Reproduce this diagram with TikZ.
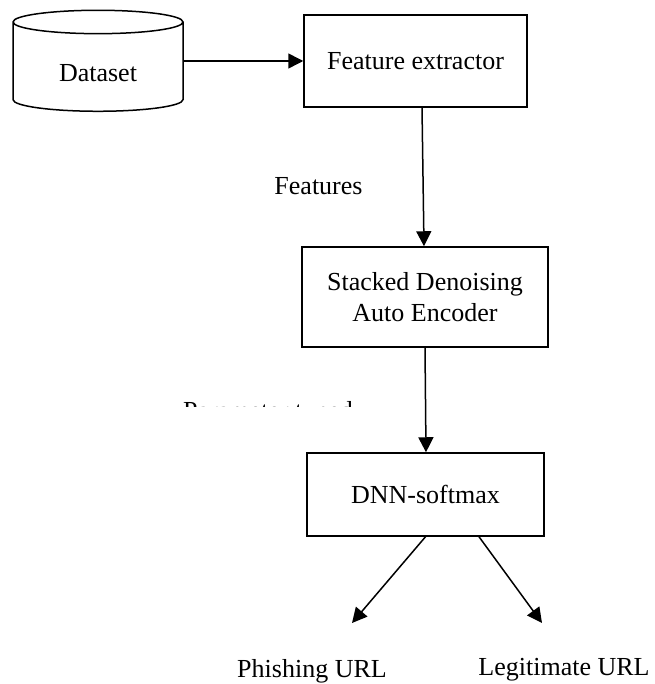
\documentclass[tikz,border=0pt]{standalone}
\usepackage{fontspec}
\setmainfont{Liberation Serif}
\usetikzlibrary{shapes.geometric}
\usetikzlibrary{arrows.meta}

\begin{document}
\begin{tikzpicture}[x=1pt,y=-1pt,
  txt/.style={font=\fontsize{26}{31}\selectfont},
  blk/.style={draw,line width=1.5pt,txt,align=center,inner sep=0pt},
  arr/.style={line width=1.5pt,-{Triangle[length=15pt,width=15pt]}}]
\useasboundingbox (0,0) rectangle (654,684);
\node[cylinder,shape border rotate=90,aspect=0.3,draw,line width=1.5pt,txt,
  minimum width=170pt,minimum height=101pt,inner sep=0pt] (data) at (98,67)
  {\raisebox{-15pt}[0pt][0pt]{Dataset}};
\node[blk,minimum width=223pt,minimum height=92pt] (feat) at (415.5,61) {Feature extractor};
\node[blk,minimum width=246pt,minimum height=100pt] (sdae) at (425,297) {Stacked Denoising\\Auto Encoder};
\node[blk,minimum width=237pt,minimum height=83pt] (dnn) at (425.5,494.5) {DNN-softmax};
% labels
\node[txt,anchor=base] (feats) at (318.5,195) {Features};
\begin{scope}
\clip (150,395) rectangle (450,406);
\node[txt,anchor=base west,inner sep=0pt] (tuned) at (183,419) {Parameter tuned};
\end{scope}
\coordinate (p) at (352,623);
\coordinate (l) at (542,623);
\node[txt,anchor=base] (phish) at (312,677) {Phishing URL};
\node[txt,anchor=base] (legit) at (564,675) {Legitimate URL};
% arrows
\draw[arr] (data.east |- feat.west) -- (feat.west);
\draw[arr] ([xshift=6.5pt]feat.south) -- ([xshift=-1pt]sdae.north);
\draw[arr] (sdae.south) -- ([xshift=0.5pt]dnn.north);
\draw[arr] (dnn.south) -- (p);
\draw[arr] ([xshift=53.5pt]dnn.south) -- (l);
\end{tikzpicture}
\end{document}
